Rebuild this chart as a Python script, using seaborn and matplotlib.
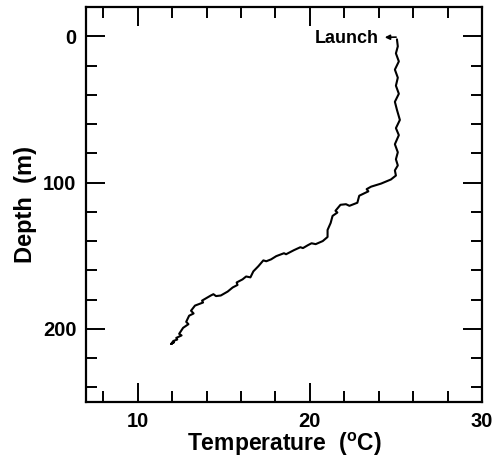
import matplotlib
matplotlib.use("Agg")
import matplotlib.pyplot as plt
import seaborn as sns
import pandas as pd
from matplotlib.ticker import MultipleLocator

temperature = [25.06, 25.11, 25.00, 25.17, 24.94, 25.11, 25.00, 25.17, 24.94, 25.06,
               25.23, 25.00, 25.17, 24.94, 25.11, 25.00, 25.11, 24.94, 25.00, 24.71,
               24.14, 23.56, 23.30, 23.40, 22.87, 22.76, 22.30, 22.10, 21.78, 21.49,
               21.60, 21.32, 21.21, 21.03, 21.03, 20.75, 20.34, 20.10, 19.89, 19.60,
               19.45, 19.08, 18.62, 18.50, 18.05, 17.75, 17.47, 17.30, 17.01, 16.72,
               16.55, 16.30, 16.09, 15.75, 15.80, 15.52, 15.23, 14.83, 14.55, 14.40,
               14.25, 13.74, 13.80, 13.33, 13.10, 13.25, 12.99, 12.82, 12.95, 12.64,
               12.41, 12.55, 12.24, 12.30, 12.07, 11.95, 12.10, 11.95]
depth = [2.1, 6.9, 11.7, 17.2, 22.8, 28.3, 33.8, 39.3, 44.8, 50.3,
         57.2, 62.8, 67.6, 73.8, 79.3, 84.1, 88.3, 91.7, 95.2, 97.9,
         100.7, 102.8, 104.5, 106.0, 109.0, 113.8, 115.9, 114.8, 115.2, 119.3,
         120.5, 122.8, 127.6, 132.4, 137.2, 140.0, 142.1, 141.5, 142.8, 144.8,
         144.2, 146.2, 149.0, 148.3, 150.3, 152.5, 153.8, 153.2, 157.2, 160.7,
         164.8, 164.2, 166.2, 168.3, 170.0, 171.7, 174.5, 177.2, 177.6, 176.3,
         177.2, 180.7, 182.0, 184.1, 187.6, 189.5, 191.0, 195.2, 196.8, 199.3,
         203.4, 204.5, 206.2, 207.3, 208.3, 210.3, 209.2, 210.3]
x_ticks = [10, 20, 30]
y_ticks = [0, 100, 200]
annotation_text = "Launch"

df = pd.DataFrame({"Temperature": temperature, "Depth": depth})

sns.set_style("ticks")
plt.rcParams["font.family"] = ["Liberation Sans", "DejaVu Sans"]
plt.rcParams["font.weight"] = "bold"
plt.rcParams["text.color"] = "black"
plt.rcParams["axes.labelcolor"] = "black"
plt.rcParams["mathtext.fontset"] = "custom"
plt.rcParams["mathtext.rm"] = "Liberation Sans:bold"
plt.rcParams["mathtext.it"] = "Liberation Sans:bold"
plt.rcParams["mathtext.bf"] = "Liberation Sans:bold"

fig = plt.figure(figsize=(4.98, 4.57), dpi=100)
ax = fig.add_axes([86 / 498, 1 - 402 / 457, (482 - 86) / 498, (402 - 7) / 457])

sns.lineplot(data=df, x="Temperature", y="Depth", sort=False, estimator=None,
             color="black", linewidth=1.5, ax=ax)

ax.set_xlim(7, 30)
ax.set_ylim(250, -20)
ax.set_xticks(x_ticks)
ax.set_yticks(y_ticks)
ax.xaxis.set_minor_locator(MultipleLocator(2))
ax.yaxis.set_minor_locator(MultipleLocator(20))
ax.tick_params(which="both", direction="in", top=True, right=True, width=1.4,
               labelsize=14.5, pad=7, colors="black", labelcolor="black")
ax.tick_params(which="major", length=14)
ax.tick_params(which="minor", length=8)
for lab in ax.get_xticklabels() + ax.get_yticklabels():
    lab.set_fontweight("bold")
for sp in ax.spines.values():
    sp.set_linewidth(1.6)
    sp.set_color("black")

ax.set_xlabel(r"Temperature  ($^{\mathregular{o}}$C)", fontsize=16.5, fontweight="bold",
              labelpad=0, color="black")
ax.set_ylabel("Depth  (m)", fontsize=17, fontweight="bold", labelpad=4, color="black")

ax.annotate(annotation_text, xy=(temperature[0] - 0.05, 0.6), xytext=(24.0, 1.2),
            fontsize=13, fontweight="bold", ha="right", va="center", color="black",
            arrowprops=dict(arrowstyle="<|-", color="black", lw=1.2,
                            shrinkA=2, shrinkB=0, mutation_scale=7))

fig.savefig("out.png", dpi=100)
